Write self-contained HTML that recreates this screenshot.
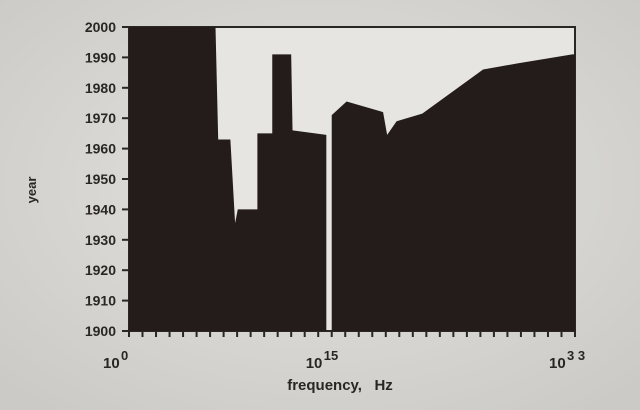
<!DOCTYPE html>
<html><head><meta charset="utf-8"><style>
html,body{margin:0;padding:0}
body{width:640px;height:410px;overflow:hidden;background:#d6d5d1}
svg{display:block}
text{font-family:"Liberation Sans",sans-serif;font-weight:bold;fill:#2a2624}
</style></head><body>
<svg width="640" height="410" viewBox="0 0 640 410">
<defs><radialGradient id="bg" cx="50%" cy="45%" r="70%"><stop offset="0" stop-color="#e4e3df"/><stop offset="1" stop-color="#cbcac6"/></radialGradient></defs>
<rect width="640" height="410" fill="url(#bg)"/>
<rect x="129" y="27" width="446" height="304" fill="#e6e5e1" stroke="#2a2624" stroke-width="2"/>
<g id="marks"></g>
<g id="axes"></g>
<text x="340" y="390" font-size="15" text-anchor="middle">frequency,&#160;&#160;&#160;Hz</text>
<text transform="translate(36,190) rotate(-90)" font-size="13" text-anchor="middle">year</text>
</svg>
<script>
const freqExp=[0,6.4,6.6,7.5,7.85,8.05,9.5,9.5,10.6,10.6,12.0,12.1,14.6,14.6,15.0,15.0,16.1,18.8,19.1,19.8,21.7,26.2,28.7,32.8,33];
const years=[2000,2000,1963,1963,1935.5,1940,1940,1965,1965,1991,1991,1966,1964.5,1900,1900,1971,1975.5,1972,1964.5,1969,1971.5,1986,1988,1991,1991];
const yTicks=[1900,1910,1920,1930,1940,1950,1960,1970,1980,1990,2000];
const xLabels=[{e:0,t:"0"},{e:15,t:"15"},{e:33,t:"3 3"}];
const NS="http://www.w3.org/2000/svg";
const X=e=>129+e*(446/33), Y=y=>331-(y-1900)*3.04;
const marks=document.getElementById('marks'), axes=document.getElementById('axes');
let d=`M${X(freqExp[0])},${Y(1900)}`;
freqExp.forEach((e,i)=>{d+=` L${X(e)},${Y(years[i])}`;});
d+=` L${X(freqExp[freqExp.length-1])},${Y(1900)} Z`;
const p=document.createElementNS(NS,'path');
p.setAttribute('d',d);p.setAttribute('fill','#231c1a');


marks.appendChild(p);
yTicks.forEach(v=>{
 const l=document.createElementNS(NS,'line');
 l.setAttribute('x1',122);l.setAttribute('x2',129);l.setAttribute('y1',Y(v));l.setAttribute('y2',Y(v));
 l.setAttribute('stroke','#2a2624');l.setAttribute('stroke-width','2');
 
 
 axes.appendChild(l);
 const t=document.createElementNS(NS,'text');
 t.setAttribute('x',116);t.setAttribute('y',Y(v)+5);t.setAttribute('font-size','14');t.setAttribute('text-anchor','end');
 t.textContent=v;
 
 
 axes.appendChild(t);
});
for(let e=0;e<=33;e++){
 const l=document.createElementNS(NS,'line');
 l.setAttribute('x1',X(e));l.setAttribute('x2',X(e));l.setAttribute('y1',331);l.setAttribute('y2',337);
 l.setAttribute('stroke','#2a2624');l.setAttribute('stroke-width','2');
 
 
 axes.appendChild(l);
}
xLabels.forEach(o=>{
 const t=document.createElementNS(NS,'text');
 t.setAttribute('x',X(o.e)-26);t.setAttribute('y',368);t.setAttribute('font-size','15');
 t.textContent="10";
 
 
 axes.appendChild(t);
 const s=document.createElementNS(NS,'text');
 s.setAttribute('x',X(o.e)-8);s.setAttribute('y',360);s.setAttribute('font-size','13');
 s.textContent=o.t;
 
 
 axes.appendChild(s);
});
</script>
</body></html>
